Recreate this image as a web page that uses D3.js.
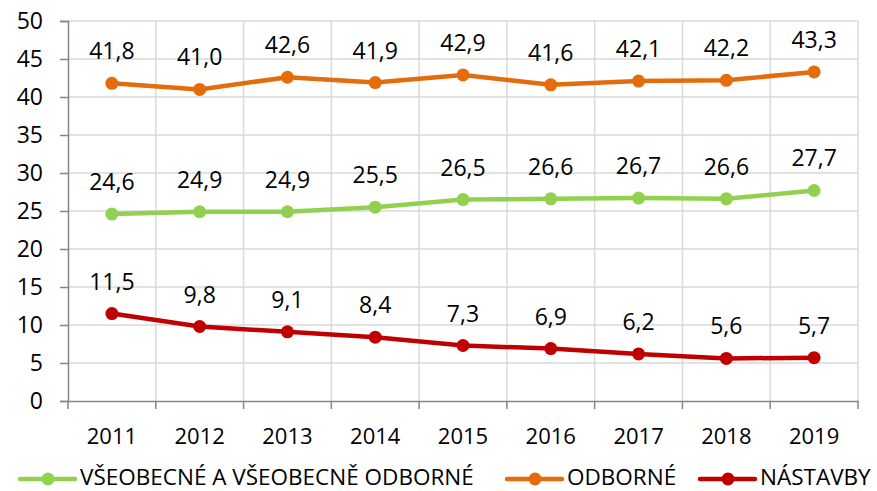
<!DOCTYPE html>
<html>
<head>
<meta charset="utf-8">
<script src="https://cdn.jsdelivr.net/npm/d3@7"></script>
<style>
  body { margin: 0; background: #fff; }
  text { font-family: "Open Sans", "Liberation Sans", sans-serif; fill: #000; }
</style>
</head>
<body>
<svg id="chart" width="877" height="491"></svg>
<script>
const years = [2011, 2012, 2013, 2014, 2015, 2016, 2017, 2018, 2019];
const vseobecne = [24.6, 24.9, 24.9, 25.5, 26.5, 26.6, 26.7, 26.6, 27.7];
const odborne = [41.8, 41.0, 42.6, 41.9, 42.9, 41.6, 42.1, 42.2, 43.3];
const nastavby = [11.5, 9.8, 9.1, 8.4, 7.3, 6.9, 6.2, 5.6, 5.7];
const yTicks = [0, 5, 10, 15, 20, 25, 30, 35, 40, 45, 50];
const seriesNames = ['VŠEOBECNÉ A VŠEOBECNĚ ODBORNÉ', 'ODBORNÉ', 'NÁSTAVBY'];
const seriesColors = ['#92d050', '#e46c0a', '#c00000'];

const series = [
  {name: seriesNames[0], color: seriesColors[0], values: vseobecne},
  {name: seriesNames[1], color: seriesColors[1], values: odborne},
  {name: seriesNames[2], color: seriesColors[2], values: nastavby}
];

const margin = {top: 21, right: 19, bottom: 90, left: 68};
const width = 877, height = 491;
const svg = d3.select('#chart');

const x = d3.scaleBand()
  .domain(years)
  .range([margin.left, width - margin.right]);

const y = d3.scaleLinear()
  .domain([0, 50])
  .range([height - margin.bottom, margin.top]);

const fmt = v => v.toFixed(1).replace('.', ',');

// title remnant, cut off at the top edge like in the original
svg.append('text')
  .attr('x', 717).attr('y', -4)
  .attr('text-anchor', 'middle')
  .style('font-size', '23px')
  .text('(%)');

// horizontal gridlines
svg.append('g')
  .selectAll('line')
  .data(yTicks.filter(d => d > 0))
  .join('line')
  .attr('x1', margin.left).attr('x2', width - margin.right)
  .attr('y1', d => y(d)).attr('y2', d => y(d))
  .attr('stroke', '#d9d9d9').attr('stroke-width', 1.5);

// vertical gridlines between categories
const bounds = years.map(d => x(d)).concat([x(years[years.length - 1]) + x.bandwidth()]);
svg.append('g')
  .selectAll('line')
  .data(bounds.slice(1))
  .join('line')
  .attr('x1', d => d).attr('x2', d => d)
  .attr('y1', y(50)).attr('y2', y(0))
  .attr('stroke', '#d9d9d9').attr('stroke-width', 1.5);

// y axis
svg.append('g')
  .attr('transform', `translate(${margin.left},0)`)
  .call(d3.axisLeft(y).tickValues(yTicks).tickSize(8).tickPadding(17).tickFormat(d3.format('d')))
  .call(g => g.select('.domain').attr('stroke', '#868686').attr('stroke-width', 1.5))
  .call(g => g.selectAll('.tick line').attr('stroke', '#868686').attr('stroke-width', 1.5))
  .call(g => g.selectAll('.tick text').style('font-size', '23px').attr('fill', '#000'));

// x axis
svg.append('g')
  .attr('transform', `translate(0,${y(0)})`)
  .call(d3.axisBottom(x).tickSize(0).tickSizeOuter(0))
  .call(g => g.select('.domain').attr('stroke', '#868686').attr('stroke-width', 1.5))
  .call(g => g.selectAll('.tick text')
    .attr('y', 43).attr('dy', null)
    .style('font-size', '22px').attr('fill', '#000'));

// x tick marks at category boundaries
svg.append('g')
  .selectAll('line')
  .data(bounds)
  .join('line')
  .attr('x1', d => d).attr('x2', d => d)
  .attr('y1', y(0)).attr('y2', y(0) + 8)
  .attr('stroke', '#868686').attr('stroke-width', 1.5);

const cx = d => x(d) + x.bandwidth() / 2;
const line = d3.line()
  .x((v, i) => cx(years[i]))
  .y(v => y(v));

const g = svg.append('g');
series.forEach(s => {
  g.append('path')
    .datum(s.values)
    .attr('d', line)
    .attr('fill', 'none')
    .attr('stroke', s.color)
    .attr('stroke-width', 4.5)
    .attr('stroke-linejoin', 'round')
    .attr('stroke-linecap', 'round');
  g.selectAll(null)
    .data(s.values)
    .join('circle')
    .attr('cx', (v, i) => cx(years[i]))
    .attr('cy', v => y(v))
    .attr('r', 6.5)
    .attr('fill', s.color);
  g.selectAll(null)
    .data(s.values)
    .join('text')
    .attr('x', (v, i) => cx(years[i]))
    .attr('y', v => y(v) - 24)
    .attr('text-anchor', 'middle')
    .style('font-size', '23px')
    .text(fmt);
});

// legend
const legendItems = [
  {x: 20, s: series[0]},
  {x: 507, s: series[1]},
  {x: 700, s: series[2]}
];
const ly = 479;
const leg = svg.append('g');
legendItems.forEach(item => {
  leg.append('line')
    .attr('x1', item.x).attr('x2', item.x + 55)
    .attr('y1', ly).attr('y2', ly)
    .attr('stroke', item.s.color).attr('stroke-width', 4.5)
    .attr('stroke-linecap', 'round');
  leg.append('circle')
    .attr('cx', item.x + 28).attr('cy', ly).attr('r', 6.5)
    .attr('fill', item.s.color);
  leg.append('text')
    .attr('x', item.x + 60).attr('y', ly + 6)
    .style('font-size', '22.5px')
    .text(item.s.name);
});
</script>
</body>
</html>
